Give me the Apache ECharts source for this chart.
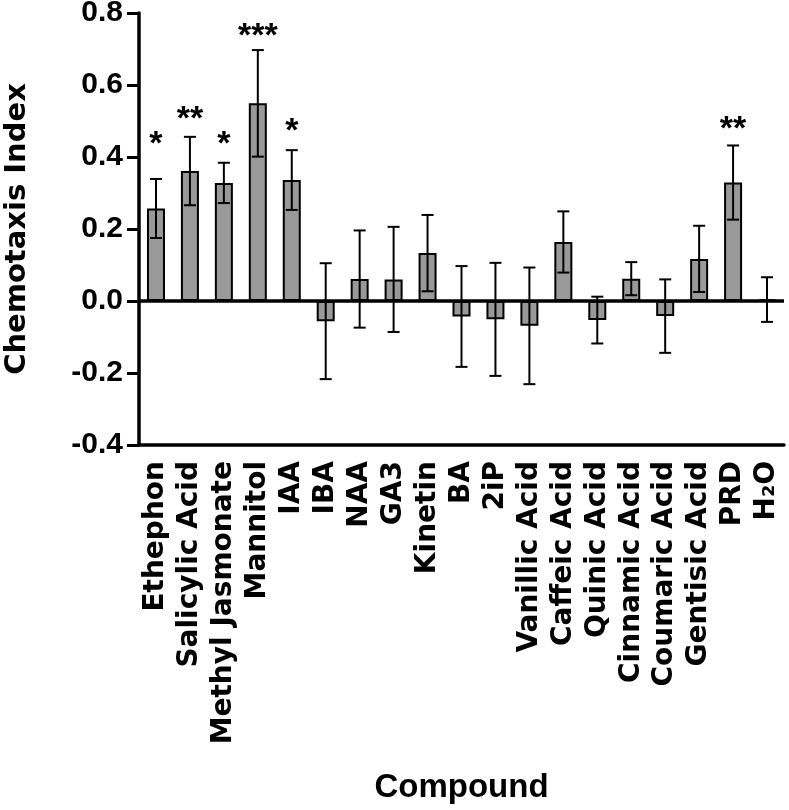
<!DOCTYPE html>
<html>
<head>
<meta charset="utf-8">
<script src="https://cdn.jsdelivr.net/npm/echarts@6/dist/echarts.min.js"></script>
<style>html,body{margin:0;padding:0;background:#fff}#c{width:789px;height:810px}</style>
</head>
<body>
<div id="c"></div>
<script>
const categories = ['Ethephon','Salicylic Acid','Methyl Jasmonate','Mannitol','IAA','IBA','NAA','GA3','Kinetin','BA','2iP','Vanillic Acid','Caffeic Acid','Quinic Acid','Cinnamic Acid','Coumaric Acid','Gentisic Acid','PRD','H₂O'];
const means  = [0.257, 0.361, 0.328, 0.549, 0.336, -0.056, 0.061, 0.060, 0.133, -0.043, -0.051, -0.069, 0.164, -0.053, 0.062, -0.042, 0.117, 0.329, 0.004];
const errors = [0.082, 0.095, 0.056, 0.148, 0.083, 0.161, 0.135, 0.146, 0.106, 0.140, 0.157, 0.162, 0.085, 0.065, 0.046, 0.102, 0.092, 0.103, 0.062];
const sigMarks = ['*','**','*','***','*','','','','','','','','','','','','','**',''];
const sigPos   = [0.447, 0.517, 0.447, 0.747, 0.483, null, null, null, null, null, null, null, null, null, null, null, null, 0.489, null];
const yTicks = [-0.4, -0.2, 0.0, 0.2, 0.4, 0.6, 0.8];

const chart = echarts.init(document.getElementById('c'), null, {renderer: 'canvas'});
const errData = categories.map((c, i) => [i, means[i], errors[i]]);
const sigData = categories.map((c, i) => [i, sigPos[i], sigMarks[i]]).filter(d => d[2]);

chart.setOption({
  animation: false,
  backgroundColor: '#fff',
  grid: {left: 139, right: 5, top: 13, bottom: 365, outerBoundsMode: 'none', containLabel: false},
  xAxis: {
    type: 'category',
    data: categories,
    position: 'bottom',
    name: 'Compound',
    nameLocation: 'middle',
    nameGap: 326,
    nameTextStyle: {fontFamily: 'Liberation Sans', fontWeight: 'bold', fontSize: 33, color: '#000'},
    axisLine: {onZero: false, lineStyle: {color: '#000', width: 3.5}},
    axisTick: {alignWithLabel: true, length: 12, lineStyle: {color: '#000', width: 3}},
    axisLabel: {rotate: 90, interval: 0, margin: 16, fontFamily: 'DejaVu Sans', fontWeight: 'bold', fontSize: 28, color: '#000'},
    splitLine: {show: false}
  },
  yAxis: {
    type: 'value',
    min: yTicks[0], max: yTicks[yTicks.length - 1], interval: 0.2,
    name: 'Chemotaxis Index',
    nameLocation: 'middle',
    nameGap: 107,
    nameTextStyle: {fontFamily: 'DejaVu Sans', fontWeight: 'bold', fontSize: 29, color: '#000'},
    axisLine: {show: true, lineStyle: {color: '#000', width: 3.5}},
    axisTick: {show: true, length: 12, lineStyle: {color: '#000', width: 3}},
    axisLabel: {margin: 16, fontFamily: 'Liberation Sans', fontWeight: 'bold', fontSize: 30, color: '#000',
      formatter: v => v.toFixed(1)},
    splitLine: {show: false}
  },
  series: [
    {
      type: 'bar',
      data: means,
      barWidth: 18,
      itemStyle: {color: '#999999', borderColor: '#000', borderWidth: 2},
      markLine: {
        silent: true, symbol: 'none', animation: false,
        label: {show: false},
        lineStyle: {color: '#000', width: 3.5, type: 'solid'},
        data: [{yAxis: 0}]
      }
    },
    {
      type: 'custom',
      data: errData,
      z: 5,
      renderItem: function (params, api) {
        const i = api.value(0), m = api.value(1), e = api.value(2);
        const top = api.coord([i, m + e]);
        const bot = api.coord([i, m - e]);
        const hw = 6;
        const st = {stroke: '#000', lineWidth: 2};
        return {type: 'group', children: [
          {type: 'line', shape: {x1: top[0], y1: top[1], x2: bot[0], y2: bot[1]}, style: st},
          {type: 'line', shape: {x1: top[0] - hw, y1: top[1], x2: top[0] + hw, y2: top[1]}, style: st},
          {type: 'line', shape: {x1: bot[0] - hw, y1: bot[1], x2: bot[0] + hw, y2: bot[1]}, style: st}
        ]};
      }
    },
    {
      type: 'custom',
      data: sigData,
      z: 6,
      renderItem: function (params, api) {
        const p = api.coord([api.value(0), api.value(1)]);
        return {type: 'text', x: p[0], y: p[1] + 5,
          style: {text: sigData[params.dataIndex][2], fontFamily: 'Liberation Sans', fontWeight: 'bold', fontSize: 34,
            fill: '#000', align: 'center', verticalAlign: 'middle'}};
      }
    }
  ]
});
</script>
</body>
</html>
